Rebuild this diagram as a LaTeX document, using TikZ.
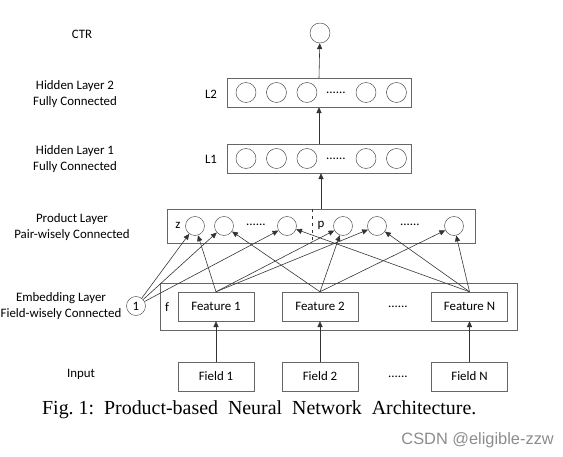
\documentclass[tikz,border=0pt]{standalone}
\usepackage{fontspec}
\setmainfont{Carlito}
\newfontfamily\capfont{Liberation Serif}
\newfontfamily\wmfont{Liberation Sans}
\usetikzlibrary{positioning, arrows.meta}

\begin{document}
\begin{tikzpicture}[x=0.03cm, y=-0.03cm,
    every node/.style={font=\fontsize{11}{13}\selectfont},
    box/.style={draw=black!60, rectangle, minimum width=2.28cm, minimum height=0.87cm, inner sep=0pt},
    unit/.style={draw=black!75, circle, minimum size=0.6cm, inner sep=0pt},
    punit/.style={unit, minimum size=0.57cm},
    arr/.style={-{Triangle[length=5pt,width=4.4pt]}, draw=black!80, line width=0.5pt}]

    \useasboundingbox (0,0) rectangle (563,457);

    % output and hidden layers
    \node[unit] (ctr) at (320,33) {};
    \node[draw=black!60, rectangle, minimum width=5.52cm, minimum height=0.87cm] (L2) at (319,92.5) {};
    \node[draw=black!60, rectangle, minimum width=5.52cm, minimum height=0.87cm] (L1) at (319,158.5) {};

    \node[unit] (h21) at (246,92.5) {};
    \node[unit] (h22) [right=0.3cm of h21] {};
    \node[unit] (h23) [right=0.3cm of h22] {};
    \node (h2d) at (336,92.5) {......};
    \node[unit] (h24) at (366,92.5) {};
    \node[unit] (h25) [right=0.3cm of h24] {};

    \node[unit] (h11) at (246,158.5) {};
    \node[unit] (h12) [right=0.3cm of h11] {};
    \node[unit] (h13) [right=0.3cm of h12] {};
    \node (h1d) at (336,158.5) {......};
    \node[unit] (h14) at (366,158.5) {};
    \node[unit] (h15) [right=0.3cm of h14] {};

    \node (l2) at (211,94) {L2};
    \node (l1) at (211,159) {L1};

    % product layer
    \node[draw=black!60, rectangle, minimum width=9.24cm, minimum height=1.02cm] (prod) at (321,226) {};
    \node (z) at (178,225) {z};
    \node[punit] (z1) at (195,226) {};
    \node[punit] (z2) at (224,226) {};
    \node (zd) at (256,225) {......};
    \node[punit] (z3) at (287,226) {};
    \node (p) at (321,225) {p};
    \node[punit] (p1) at (343,226) {};
    \node[punit] (p2) at (377,226) {};
    \node (pd) at (410,225) {......};
    \node[punit] (p3) at (454,226) {};
    \draw[dashed, black!80] (prod.north -| 312,0) -- (prod.south -| 312,0);

    % embedding layer
    \node[draw=black!60, rectangle, minimum width=10.71cm, minimum height=1.41cm] (emb) at (338.5,306.5) {};
    \node (f) at (167,307) {f};
    \node[box] (f1) at (216,306.5) {Feature 1};
    \node[box] (f2) at (320,306.5) {Feature 2};
    \node (fd) at (398,306.5) {......};
    \node[box] (fN) at (469.5,306.5) {Feature N};
    \node[unit, minimum size=0.57cm] (one) at (136,306) {1};

    % input
    \node[box] (in1) at (216,376.5) {Field 1};
    \node[box] (in2) at (320,376.5) {Field 2};
    \node (ind) at (398,376.5) {......};
    \node[box] (inN) at (469.5,376.5) {Field N};

    % layer names
    \node (t1) at (82,34) {CTR};
    \node[align=center] (t2) at (75,94) {Hidden Layer 2\\Fully Connected};
    \node[align=center] (t3) at (75,159) {Hidden Layer 1\\Fully Connected};
    \node[align=center] (t4) at (72,227) {Product Layer\\Pair-wisely Connected};
    \node[align=center, inner sep=1pt] (t5) at (61,306) {Embedding Layer\\Field-wisely Connected};
    \node (t6) at (81,374) {Input};

    % connections
    \draw (in1) edge[arr] (f1);
    \draw (in2) edge[arr] (f2);
    \draw (inN) edge[arr] (fN);

    \draw (one) edge[arr] (z1) edge[arr] (z2) edge[arr] (z3);
    \draw (f1.north) edge[arr] (z1) edge[arr] (p1) edge[arr] (p2);
    \draw (f2.north) edge[arr] (z2) edge[arr] (p1) edge[arr] (p3);
    \draw (fN.north) edge[arr] (z3) edge[arr] (p2) edge[arr] (p3);

    \draw (prod.north) edge[arr] (prod.north |- L1.south);
    \draw (L1.north) edge[arr] (L2.south);
    \draw (L2.north) edge[arr] (ctr);

    % caption
    \node[font=\capfont\fontsize{17}{20}\selectfont, anchor=west] (cap) at (38,410)
        {Fig.\ 1:\ \ Product-based\ \ Neural\ \ Network\ \ Architecture.};
    \node[font=\wmfont\fontsize{14}{16}\selectfont, text=black!45, anchor=east] (wm) at (558,440) {CSDN @eligible-zzw};
\end{tikzpicture}
\end{document}
